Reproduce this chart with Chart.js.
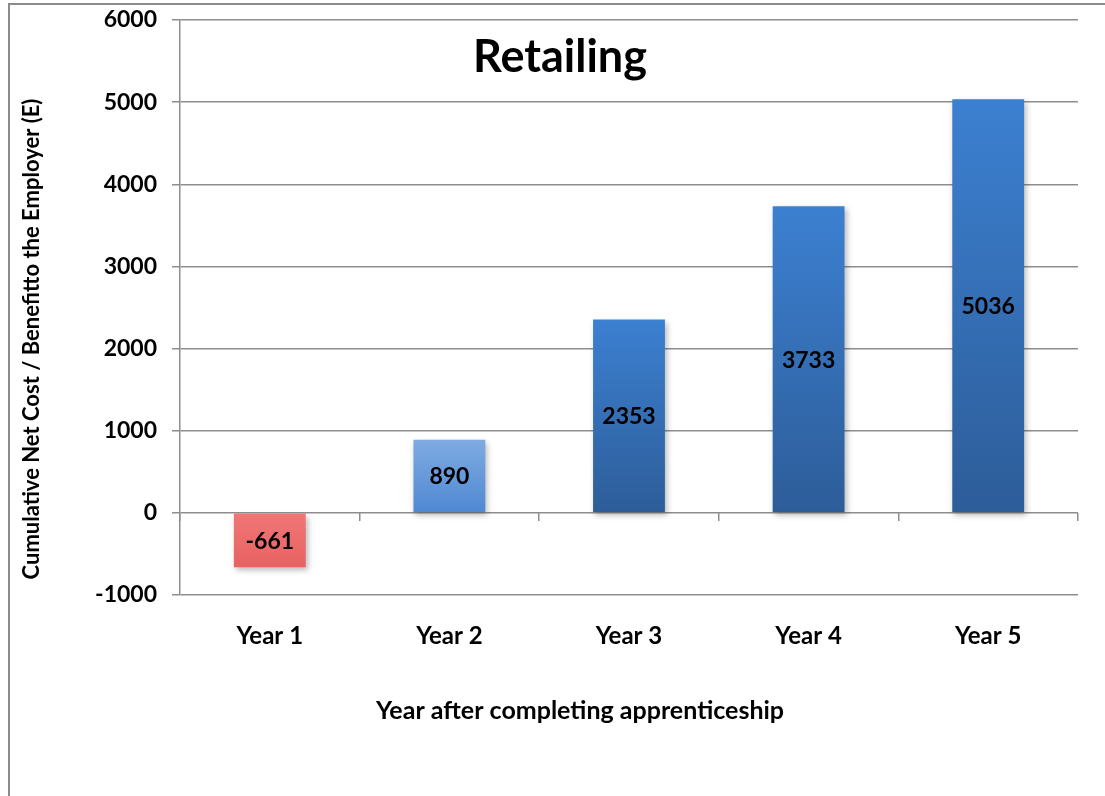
<!DOCTYPE html>
<html>
<head>
<meta charset="utf-8">
<script src="https://cdn.jsdelivr.net/npm/chart.js@4.4.1/dist/chart.umd.min.js"></script>
<style>
  html, body { margin: 0; padding: 0; background: #fff; }
  .frame { position: absolute; left: 8px; top: 3px; width: 1200px; height: 900px;
           border-left: 2px solid #8c8c8c; border-top: 2px solid #8c8c8c; }
  canvas { position: absolute; left: 0; top: 0; }
</style>
</head>
<body>
<div class="frame"></div>
<canvas id="chart" width="1105" height="796"></canvas>
<script>
const years = ["Year 1", "Year 2", "Year 3", "Year 4", "Year 5"];
const netBenefit = [-661, 890, 2353, 3733, 5036];
const yTicks = [-1000, 0, 1000, 2000, 3000, 4000, 5000, 6000];

const FONT = "Lato, 'Liberation Sans', sans-serif";

// top / bottom gradient colours per bar
const topColors = ["#f17676", "#7fabe2", "#3c80d1", "#3c80d1", "#3c80d1"];
const bottomColors = ["#e86262", "#4f88d2", "#2d5d99", "#2d5d99", "#2d5d99"];

function barFill(ctx) {
  const chart = ctx.chart;
  const y = chart.scales.y;
  if (!y || ctx.dataIndex === undefined) return topColors[0];
  const v = netBenefit[ctx.dataIndex];
  const top = y.getPixelForValue(Math.max(v, 0));
  const bot = y.getPixelForValue(Math.min(v, 0));
  if (!isFinite(top) || !isFinite(bot) || top === bot) return topColors[ctx.dataIndex];
  const g = chart.ctx.createLinearGradient(0, top, 0, bot);
  g.addColorStop(0, topColors[ctx.dataIndex]);
  g.addColorStop(1, bottomColors[ctx.dataIndex]);
  return g;
}

const barShadow = {
  id: "barShadow",
  beforeDatasetDraw(chart) {
    const c = chart.ctx;
    c.save();
    c.shadowColor = "rgba(0,0,0,0.28)";
    c.shadowBlur = 6;
    c.shadowOffsetX = 2;
    c.shadowOffsetY = 3;
  },
  afterDatasetDraw(chart) {
    chart.ctx.restore();
  }
};

const labelsAndTitles = {
  id: "labelsAndTitles",
  afterDatasetsDraw(chart) {
    const c = chart.ctx;
    const meta = chart.getDatasetMeta(0);
    c.save();
    c.fillStyle = "#000";
    c.textAlign = "center";
    c.textBaseline = "middle";
    c.font = "bold 23px " + FONT;
    meta.data.forEach((bar, i) => {
      const mid = (bar.y + bar.base) / 2;
      c.fillText(String(netBenefit[i]), bar.x, mid + 1);
    });
    c.restore();
  },
  afterDraw(chart) {
    const c = chart.ctx;
    c.save();
    c.fillStyle = "#000";
    c.textAlign = "center";
    c.textBaseline = "middle";
    c.font = "bold 45px " + FONT;
    c.fillText("Retailing", 560, 57);
    c.font = "bold 25px " + FONT;
    c.fillText("Year after completing apprenticeship", 580, 711);
    c.translate(32, 339);
    c.rotate(-Math.PI / 2);
    c.font = "bold 22px " + FONT;
    c.fillText("Cumulative Net Cost / Benefitto the Employer (E)", 0, 0);
    c.restore();
  }
};

new Chart(document.getElementById("chart"), {
  type: "bar",
  data: {
    labels: years,
    datasets: [{
      label: "Retailing",
      data: netBenefit,
      backgroundColor: barFill,
      borderWidth: 0,
      barPercentage: 0.5,
      categoryPercentage: 0.8
    }]
  },
  options: {
    responsive: false,
    animation: false,
    devicePixelRatio: 1,
    layout: { padding: { top: 20, right: 27, left: 0, bottom: 0 } },
    plugins: {
      legend: { display: false },
      tooltip: { enabled: false },
      title: { display: false }
    },
    scales: {
      x: {
        position: "bottom",
        grid: { display: false, drawTicks: false },
        border: { display: false },
        ticks: { color: "#000", padding: 27, font: { family: FONT, size: 24, weight: "bold" } },
        afterFit(scale) { scale.height = 201; }
      },
      x2: {
        type: "category",
        labels: years,
        position: { y: 0 },
        offset: true,
        grid: { drawOnChartArea: false, drawTicks: true, tickLength: 8, color: "#8e8e8e", lineWidth: 1.5, offset: true },
        border: { display: false },
        ticks: { display: false }
      },
      y: {
        min: -1000,
        max: 6000,
        afterBuildTicks(scale) { scale.ticks = yTicks.map(v => ({ value: v })); },
        grid: { color: "#8e8e8e", lineWidth: 1.5, tickLength: 8 },
        border: { color: "#8e8e8e", width: 1.5 },
        ticks: {
          color: "#000", padding: 15,
          font: { family: FONT, size: 23, weight: "bold" },
          callback: v => String(v)
        },
        afterFit(scale) {
          scale.width = 180;
          scale.paddingTop = 0;
          scale.paddingBottom = 0;
        }
      }
    }
  },
  plugins: [barShadow, labelsAndTitles]
});
</script>
</body>
</html>
